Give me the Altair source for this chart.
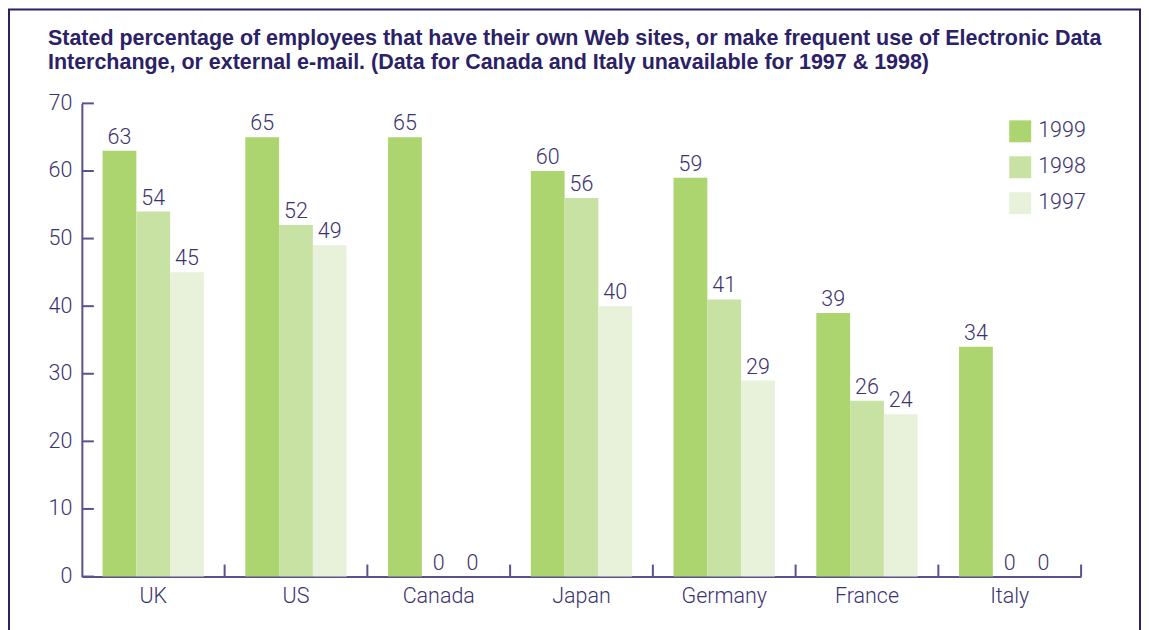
import altair as alt
import pandas as pd

countries = ["UK", "US", "Canada", "Japan", "Germany", "France", "Italy"]
v1999 = [63, 65, 65, 60, 59, 39, 34]
v1998 = [54, 52, 0, 56, 41, 26, 0]
v1997 = [45, 49, 0, 40, 29, 24, 0]
years = ["1999", "1998", "1997"]
colors = ["#acd46f", "#c8e2a4", "#e8f1da"]
y_ticks = [0, 10, 20, 30, 40, 50, 60, 70]
title_lines = [
    "Stated percentage of employees that have their own Web sites, or make frequent use of Electronic Data",
    "Interchange, or external e-mail. (Data for Canada and Italy unavailable for 1997 & 1998)",
]

rows = []
for yr, vals in zip(years, [v1999, v1998, v1997]):
    for c, v in zip(countries, vals):
        rows.append({"country": c, "year": yr, "value": v})
df = pd.DataFrame(rows)

W, H = 1001, 474
NAVY = "#3b336f"
AXIS = "#5a5290"
FRAME = "#2b2166"
FONT = "Roboto"
FS = 21.5
P_IN = 0.29
step = W / 7.0

x_axis = alt.Axis(labelAngle=0, ticks=False, domainColor=AXIS, domainWidth=2,
                  labelFontSize=FS, labelColor=NAVY, labelFont=FONT,
                  labelFontWeight=300, labelPadding=9, title=None)
y_axis = alt.Axis(values=y_ticks, ticks=False, grid=False, domainColor=AXIS,
                  domainWidth=2, labelFontSize=FS, labelColor=NAVY, labelFont=FONT,
                  labelFontWeight=300, labelPadding=10, title=None)
x_scale = alt.Scale(paddingInner=P_IN, paddingOuter=P_IN / 2)
y_scale = alt.Scale(domain=[0, 70], nice=False)

x_enc = alt.X("country:N", sort=countries, title=None, scale=x_scale, axis=x_axis)
y_enc = alt.Y("value:Q", title=None, scale=y_scale, axis=y_axis)
xoff = alt.XOffset("year:N", sort=years, scale=alt.Scale(paddingInner=0, paddingOuter=0))

base = alt.Chart(df)
bars = base.mark_bar().encode(
    x=x_enc, y=y_enc, xOffset=xoff,
    color=alt.Color(
        "year:N", sort=years,
        scale=alt.Scale(domain=years, range=colors),
        legend=alt.Legend(title=None, orient="none", legendX=929, legendY=17,
                          symbolType="square", symbolSize=484, symbolStrokeWidth=0,
                          labelFontSize=FS, labelColor=NAVY, labelFont=FONT,
                          labelFontWeight=300, rowPadding=14, labelOffset=7),
    ),
)
labels = base.mark_text(baseline="alphabetic", dy=-7, fontSize=FS, font=FONT,
                        fontWeight=300, color=NAVY).encode(
    x=x_enc, y=y_enc, xOffset=xoff, text="value:Q",
)

xt = alt.Chart(pd.DataFrame({"country": countries})).mark_rule(
    color=AXIS, strokeWidth=2, xOffset=step * P_IN / 2
).encode(
    x=alt.X("country:N", sort=countries, bandPosition=1, title=None, scale=x_scale, axis=x_axis),
    y=alt.datum(0), y2=alt.datum(12 * 70 / H),
)
yt = alt.Chart(pd.DataFrame({"value": y_ticks})).mark_rule(color=AXIS, strokeWidth=2).encode(
    y=y_enc, x=alt.value(0), x2=alt.value(12),
)
frame = alt.Chart(alt.Data(values=[{"a": 1}])).mark_rect(
    fill=None, stroke=FRAME, strokeWidth=2
).encode(
    x=alt.value(-73), x2=alt.value(1060), y=alt.value(-94), y2=alt.value(560),
)
title = alt.Chart(alt.Data(values=[{"a": 1}])).mark_text(
    text=title_lines, align="left", baseline="alphabetic", lineHeight=24,
    font="Liberation Sans", fontSize=21.5,
    fontWeight="bold", color=FRAME,
).encode(x=alt.value(-34), y=alt.value(-58))

chart = alt.layer(bars, labels, xt, yt, frame, title).properties(
    width=W, height=H,
    autosize=alt.AutoSizeParams(type="none"),
    padding={"left": 74, "top": 95, "right": 60, "bottom": 53},
).configure_view(stroke=None)

chart.save("out.html", embed_options={"renderer": "svg", "actions": False})
